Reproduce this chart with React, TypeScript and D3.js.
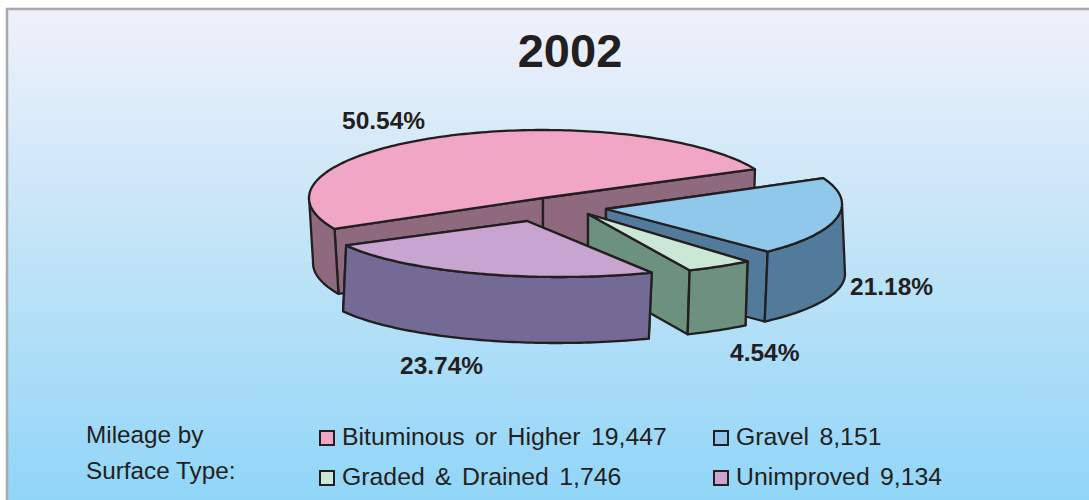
import React from "react";
import * as d3 from "d3";

const title = "2002";
const categories = ["Bituminous or Higher", "Gravel", "Graded & Drained", "Unimproved"];
const mileage = [19447, 8151, 1746, 9134];
const topColors = ["#F0A6C4", "#90C8EC", "#CBE7D5", "#C8A5D0"];
const wallColors = ["#8F6A7E", "#527A9B", "#6C917E", "#736A95"];
const legendHeading = ["Mileage by", "Surface Type:"];

const W = 1089;
const H = 500;
const INK = "#231F20";
const FONT = "'Liberation Sans', Arial, sans-serif";
const PIE_START = (243 * Math.PI) / 180;

type Geo = {
  cx: number; cy: number; rx: number; ry: number;
  apexX: number; apexY: number; depth: number; lean: number; grow: number; endLean: number;
  wallFrom: number; wallTo: number; label: [number, number];
};

// Per-slice drawing geometry of the hand-drawn exploded pie (index matches categories)
const geometry: Geo[] = [
  { cx: 543, cy: 198, rx: 234, ry: 68, apexX: 543, apexY: 198, depth: 65, lean: 4, grow: 0, endLean: -2, wallFrom: 153, wallTo: 181, label: [342, 129] },
  { cx: 643, cy: 204, rx: 199, ry: 61, apexX: 606, apexY: 209, depth: 70, lean: -13, grow: 16, endLean: -3, wallFrom: 0, wallTo: 51.2, label: [850, 295] },
  { cx: 599, cy: 213, rx: 237, ry: 62, apexX: 588, apexY: 214, depth: 64, lean: -2, grow: 0, endLean: -2, wallFrom: 51.2, wallTo: 67.5, label: [730, 361] },
  { cx: 560, cy: 219, rx: 240, ry: 58, apexX: 527, apexY: 221, depth: 66, lean: -3, grow: 0, endLean: -3, wallFrom: 67.5, wallTo: 153, label: [400, 374] },
];

const legendCells = [
  { x: 319, y: 430 },
  { x: 713, y: 430 },
  { x: 319, y: 470 },
  { x: 713, y: 470 },
];

const rad = (deg: number) => (deg * Math.PI) / 180;
const total = d3.sum(mileage);
const pct = d3.format(".2%");
const miles = d3.format(",");

const arcs = d3
  .pie<number>()
  .sort(null)
  .startAngle(PIE_START)
  .endAngle(PIE_START + 2 * Math.PI)(mileage);

const line = d3.line<[number, number]>().x((d) => d[0]).y((d) => d[1]);

function ringPoints(g: Geo, from: number, to: number, dy = 0, dx = 0, grow = 0): [number, number][] {
  const steps = Math.max(2, Math.ceil(Math.abs(to - from) / 0.02));
  const t = d3.scaleLinear().domain([0, steps]).range([from, to]);
  return d3.range(steps + 1).map((i) => [
    g.cx + (g.rx + grow) * Math.cos(t(i)) + dx,
    g.cy + g.ry * Math.sin(t(i)) + dy,
  ]);
}

function Slice({ i }: { i: number }) {
  const g = geometry[i];
  const a0 = arcs[i].startAngle - Math.PI / 2;
  const a1 = arcs[i].endAngle - Math.PI / 2;
  const rim = ringPoints(g, a0, a1);
  const first = rim[0];
  const last = rim[rim.length - 1];
  const apex: [number, number] = [g.apexX, g.apexY];
  const top = line([apex, ...rim]) + "Z";

  // outer wall, only the part of the rim that faces the viewer
  const w0 = Math.max(rad(g.wallFrom), 0);
  const w1 = rad(g.wallTo);
  const outerTop = ringPoints(g, w0, w1);
  const outerBottom = ringPoints(g, w1, w0, g.depth, g.lean, g.grow);
  const outer = line([...outerTop, ...outerBottom]) + "Z";

  // flat cut walls: the seam under the apex stays vertical
  const chord = (p: [number, number], bottom: [number, number]): [number, number][] => [
    apex,
    p,
    bottom,
    [apex[0], apex[1] + g.depth],
  ];
  const firstBottom = ringPoints(g, a0, a0 + 0.001, g.depth, g.lean, g.grow)[0];
  const lastBottom: [number, number] =
    i === 0 ? [last[0] + g.endLean, last[1] + g.depth] : ringPoints(g, a1, a1 + 0.001, g.depth, g.lean, g.grow)[0];
  const common = {
    stroke: INK,
    strokeWidth: 2.3,
    strokeLinejoin: "round" as const,
    fill: wallColors[i],
  };
  return (
    <g>
      <path d={line(chord(first, firstBottom)) + "Z"} {...common} />
      <path d={line(chord(last, lastBottom)) + "Z"} {...common} />
      <path d={outer} {...common} />
      <path d={top} {...common} fill={topColors[i]} />
    </g>
  );
}

export default function App() {
  return (
    <svg
      width={W}
      height={H}
      viewBox={`0 0 ${W} ${H}`}
      style={{ position: "absolute", left: 0, top: 0, display: "block", background: "#fff" }}
    >
      <defs>
        <linearGradient id="bg" x1="0" y1="0" x2="0" y2="1">
          <stop offset="0" stopColor="#F0F1FA" />
          <stop offset="0.5" stopColor="#BFE3F7" />
          <stop offset="1" stopColor="#8FD5F8" />
        </linearGradient>
      </defs>
      <rect x={7} y={9} width={W} height={H} fill="url(#bg)" stroke="#A9A9AC" strokeWidth={2.5} />

      <text x={570} y={67} textAnchor="middle" fontFamily={FONT} fontWeight={700} fontSize={47} fill={INK}>
        {title}
      </text>

      {d3.range(mileage.length).map((i) => (
        <Slice key={i} i={i} />
      ))}

      {mileage.map((v, i) => (
        <text
          key={i}
          x={geometry[i].label[0]}
          y={geometry[i].label[1]}
          fontFamily={FONT}
          fontWeight={700}
          fontSize={24.5}
          fill={INK}
        >
          {pct(v / total)}
        </text>
      ))}

      {legendHeading.map((t, i) => (
        <text key={t} x={86} y={443 + i * 36} fontFamily={FONT} fontSize={24.3} fill={INK}>
          {t}
        </text>
      ))}

      {categories.map((c, i) => (
        <g key={c}>
          <rect
            x={legendCells[i].x + 1}
            y={legendCells[i].y + 1}
            width={14}
            height={14}
            fill={topColors[i]}
            stroke={INK}
            strokeWidth={2}
          />
          <text
            x={legendCells[i].x + 23}
            y={legendCells[i].y + 15}
            fontFamily={FONT}
            fontSize={24.8}
            wordSpacing={3.5}
            fill={INK}
          >
            {`${c} ${miles(mileage[i])}`}
          </text>
        </g>
      ))}
    </svg>
  );
}
